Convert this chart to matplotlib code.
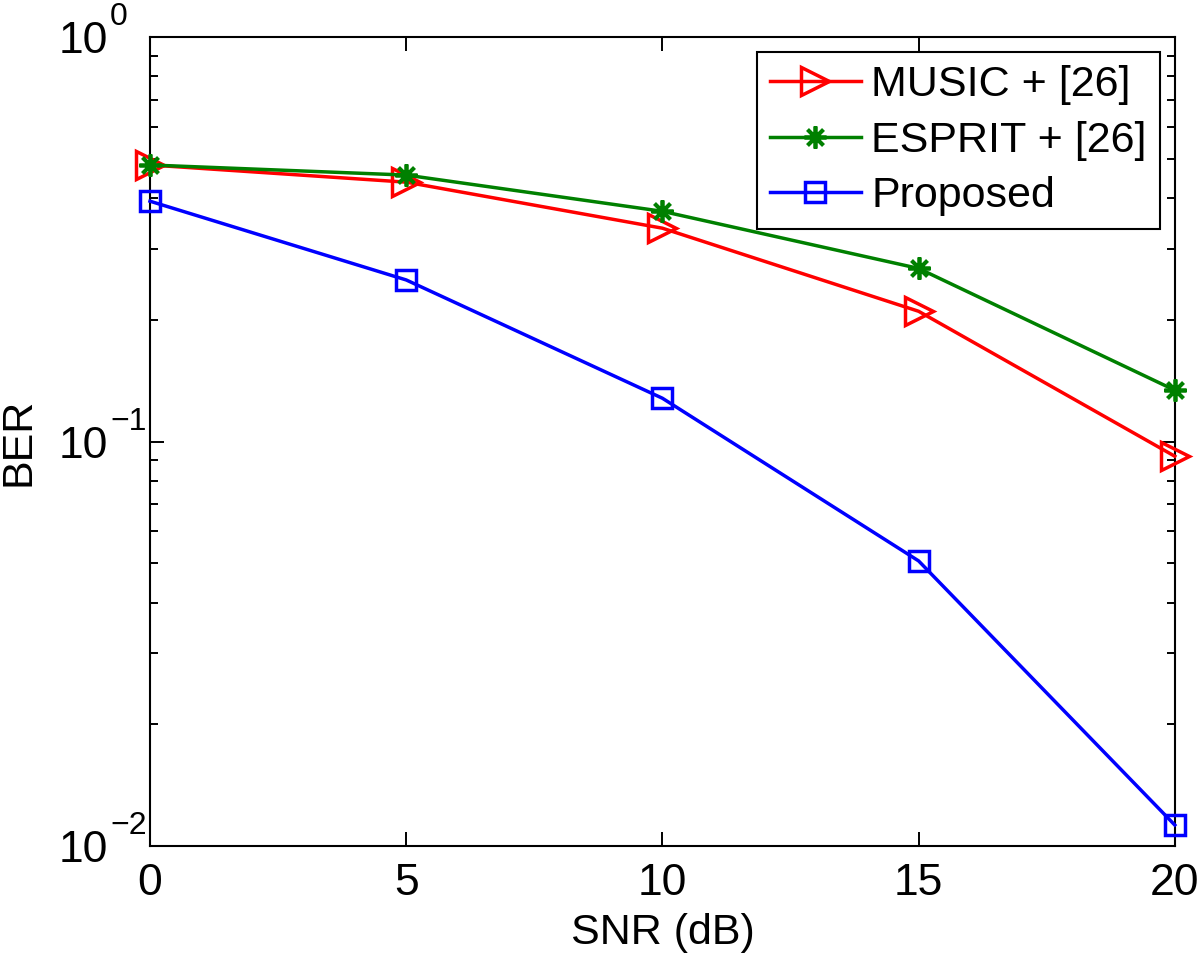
import matplotlib.pyplot as plt
import matplotlib.ticker as mticker
import numpy as np

plt.rcParams['font.family'] = ['Liberation Sans', 'DejaVu Sans']

# BER vs SNR
snr = [0, 5, 10, 15, 20]
ber_music = [0.483, 0.438, 0.337, 0.210, 0.092]
ber_esprit = [0.483, 0.456, 0.371, 0.268, 0.134]
ber_proposed = [0.393, 0.251, 0.128, 0.0507, 0.01127]
y_decades = [1e-2, 1e-1, 1e0]
y_exponents = ['\u22122', '\u22121', '0']

fig = plt.figure(figsize=(12, 9.55), dpi=100)
ax = fig.add_axes([0.125, 0.1141, 0.854, 0.847])

ax.semilogy(snr, ber_music, color='#ff0000', marker='>', markersize=20,
            markerfacecolor='none', markeredgewidth=2.5, linewidth=2.5,
            label='MUSIC + [26]', clip_on=False, zorder=3)
ax.semilogy(snr, ber_esprit, color='#008000', marker=(8, 2, 0), markersize=16,
            markeredgewidth=2.7, linewidth=2.5, label='ESPRIT + [26]',
            clip_on=False, zorder=4)
ax.semilogy(snr, ber_proposed, color='#0000ff', marker='s', markersize=15,
            markerfacecolor='none', markeredgewidth=2.5, linewidth=2.5,
            label='Proposed', clip_on=False, zorder=3)

ax.set_xlim(0, 20)
ax.set_ylim(1e-2, 1e0)
ax.set_xticks([0, 5, 10, 15, 20])
ax.set_yticks(y_decades)
ax.yaxis.set_major_formatter(mticker.NullFormatter())
ax.yaxis.set_minor_formatter(mticker.NullFormatter())
ax.set_xlabel('SNR (dB)', fontsize=31)
ax.set_ylabel('BER', fontsize=31)
ax.xaxis.set_label_coords(0.5, -0.083)
ax.yaxis.set_label_coords(-0.109, 0.5)

# MATLAB-style decade labels: "10" plus a raised exponent
for val, ex in zip(y_decades, y_exponents):
    ax.annotate('10', xy=(0, val), xycoords=('axes fraction', 'data'),
                xytext=(-42, -16), textcoords='offset pixels',
                ha='right', va='baseline', fontsize=32, annotation_clip=False)
    ax.annotate(ex, xy=(0, val), xycoords=('axes fraction', 'data'),
                xytext=(-40, 12), textcoords='offset pixels',
                ha='left', va='baseline', fontsize=23, annotation_clip=False)

ax.tick_params(which='both', direction='in', top=True, right=True, width=1.4)
ax.tick_params(which='major', length=10)
ax.tick_params(which='minor', length=6)
ax.tick_params(axis='x', which='major', labelsize=32, pad=12)
for s in ax.spines.values():
    s.set_linewidth(1.5)

leg = ax.legend(loc='upper right', fontsize=31, handlelength=2.1,
                handletextpad=0.25, borderpad=0.3, labelspacing=0.36,
                fancybox=False, edgecolor='black', framealpha=1,
                borderaxespad=0.35)
leg.get_frame().set_linewidth(1.5)

fig.savefig('out.png', dpi=100)
